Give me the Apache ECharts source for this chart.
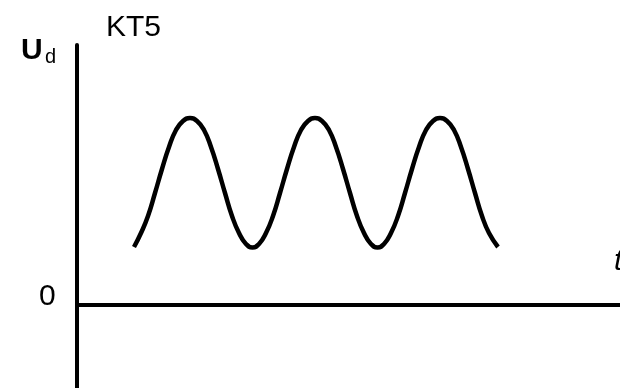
<!DOCTYPE html>
<html>
<head>
<meta charset="utf-8">
<script src="https://cdn.jsdelivr.net/npm/echarts@6/dist/echarts.min.js"></script>
<style>
  html, body { margin: 0; padding: 0; background: #fff; }
  #chart-container { width: 620px; height: 388px; }
</style>
</head>
<body>
<div id="chart-container"></div>
<script>
// waveform: t offset from the y axis, U_d above the zero line
const tValues = [57, 64, 71, 78, 85, 92, 99, 106, 113, 120, 127, 134, 141, 148, 155, 162, 169, 175.5,
  182, 189, 196, 203, 210, 217, 224, 231, 238, 245, 252, 259, 266, 273, 280, 287, 294, 300.5,
  307, 314, 321, 328, 335, 342, 349, 356, 363, 370, 377, 384, 391, 398, 405, 412, 421]
const udValues = [58, 72, 89, 112, 136, 158, 175, 184, 187, 184, 175, 158, 136, 112, 89, 72, 61, 57.5,
  61, 72, 89, 112, 136, 158, 175, 184, 187, 184, 175, 158, 136, 112, 89, 72, 61, 57.5,
  61, 72, 89, 112, 136, 158, 175, 184, 187, 184, 175, 158, 136, 112, 89, 72, 58]
const zeroLabel = '0'
const chartTitle = 'KT5'

const myChart = echarts.init(document.getElementById('chart-container'))
const font = '"Liberation Sans", Arial, sans-serif'

const option = {
    animation: false,
    title: {
        text: chartTitle,
        left: 106,
        top: 13,
        padding: 0,
        textStyle: { fontFamily: font, fontSize: 30, fontWeight: 'normal', color: '#000' }
    },
    grid: { left: 77, right: 0, top: 45, bottom: 0 },
    xAxis: {
        type: 'value',
        min: 0,
        max: 543,
        axisLine: { onZero: true, lineStyle: { color: '#000', width: 4 } },
        axisTick: { show: false },
        axisLabel: { show: false },
        splitLine: { show: false }
    },
    yAxis: {
        type: 'value',
        min: -83,
        max: 260,
        axisLine: { show: true, lineStyle: { color: '#000', width: 4 } },
        axisTick: { show: false },
        axisLabel: { show: false },
        splitLine: { show: false }
    },
    graphic: [
        { type: 'text', left: 21, top: 36,
          style: { text: 'U', font: 'bold 30px ' + font, fill: '#000' } },
        { type: 'text', left: 45, top: 47,
          style: { text: 'd', font: '20px ' + font, fill: '#000' } },
        { type: 'text', left: 39, top: 282,
          style: { text: zeroLabel, font: '30px ' + font, fill: '#000' } },
        { type: 'text', left: 614, top: 247,
          style: { text: 't', font: 'italic 30px ' + font, fill: '#000' } }
    ],
    series: [
        {
            type: 'line',
            data: tValues.map((t, i) => [t, udValues[i]]),
            smooth: true,
            symbol: 'none',
            lineStyle: { color: '#000', width: 4.5 }
        }
    ]
}

option && myChart.setOption(option)
</script>
</body>
</html>
